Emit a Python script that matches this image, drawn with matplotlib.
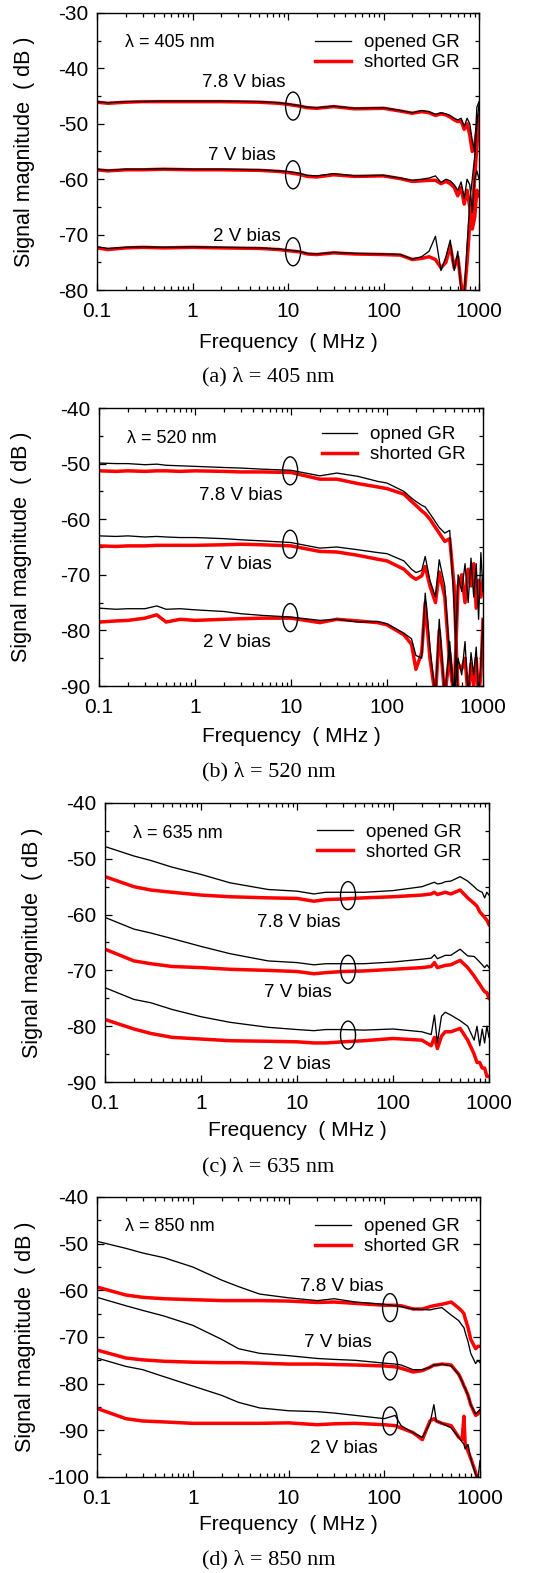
import matplotlib
matplotlib.use("Agg")
import matplotlib.pyplot as plt
import numpy as np
from matplotlib.patches import Ellipse
from matplotlib.ticker import LogLocator, NullFormatter, MultipleLocator

nan = np.nan

# (a) 405 nm
freq_a = [0.1, 0.13, 0.2, 0.3, 0.5, 1, 2, 5, 8, 10, 13, 16, 20, 30, 50, 100, 150, 200, 250,
          300, 350, 400, 450, 500, 550, 600, 650, 700, 750, 800, 850, 900, 950, 1000]
a_78_open = [-46.0, -46.2, -46.0, -46.0, -45.9, -45.9, -45.9, -46.0, -46.2, -46.4,
             -46.7, -47.0, -47.1, -46.8, -47.2, -47.1, -47.6, -48.0, -47.6, -47.8,
             -48.3, -48.0, -48.2, -48.5, -49.0, -49.3, -49.0, -50.5, -49.0, -50.0,
             -53.0, -55.0, -47.0, -46.0]
a_78_short = [-46.1, -46.3, -46.1, -46.0, -46.0, -46.0, -46.0, -46.1, -46.3, -46.5,
              -46.8, -47.1, -47.2, -46.9, -47.3, -47.2, -47.7, -48.1, -47.8, -48.0,
              -48.5, -48.2, -48.4, -48.8, -49.3, -49.6, -49.5, -51.0, -50.0, -52.0,
              -55.0, -54.0, -51.0, -48.5]
a_7_open = [-58.2, -58.4, -58.2, -58.2, -58.1, -58.2, -58.2, -58.3, -58.5, -58.6,
            -58.9, -59.3, -59.4, -59.0, -59.4, -59.3, -59.8, -60.2, -60.0, -59.8,
            -59.4, -60.6, -60.0, -60.3, -61.0, -62.0, -60.5, -63.5, -60.0, -61.0,
            -66.0, -60.0, -58.5, -60.0]
a_7_short = [-58.3, -58.5, -58.3, -58.3, -58.2, -58.3, -58.3, -58.4, -58.6, -58.8,
             -59.1, -59.5, -59.6, -59.2, -59.5, -59.4, -59.9, -60.4, -60.3, -60.2,
             -60.2, -60.8, -60.4, -60.8, -61.5, -63.0, -61.5, -64.5, -62.0, -65.0,
             -69.0, -67.0, -62.0, -63.0]
a_2_open = [-72.2, -72.5, -72.3, -72.2, -72.3, -72.2, -72.3, -72.4, -72.6, -72.8,
            -73.0, -73.4, -73.5, -73.2, -73.4, -73.5, -73.6, -74.4, -74.0, -73.0,
            -70.3, -76.5, -74.0, -71.0, -76.5, -73.0, -80.5, -81.0, -72.0, -64.0,
            -60.0, -56.0, -50.0, -46.5]
a_2_short = [-72.4, -72.7, -72.4, -72.3, -72.4, -72.3, -72.4, -72.5, -72.7, -72.9,
             -73.1, -73.5, -73.6, -73.3, -73.5, -73.6, -73.7, -74.5, -74.3, -74.0,
             -74.5, -76.0, -75.0, -72.0, -76.0, -74.0, -79.0, -81.0, -75.0, -68.0,
             -66.0, -60.0, -54.0, -49.0]

# (b) 520 nm
freq_b = [0.1, 0.15, 0.2, 0.3, 0.4, 0.5, 0.7, 1, 2, 3, 5, 10, 20, 30, 50, 80, 100, 150, 180,
          200, 230, 250, 280, 320, 350, 400, 450, 500, 550, 600, 650, 700, 750, 800, 850,
          900, 950, 1000]
b_78_open = [-49.9, -50.0, -50.0, -50.2, -50.1, -50.3, -50.4, -50.5, -50.7, -50.8,
             -51.0, -51.2, -52.2, -51.7, -52.3, -53.2, -53.5, -55.0, -56.2, -56.8,
             -57.5, -57.8, -59.0, -60.5, -61.5, -62.5, -62.0, -75.0, -92.0, nan,
             nan, nan, nan, nan, nan, nan, nan, nan]
b_78_short = [-51.3, -51.4, -51.3, -51.4, -51.3, -51.3, -51.4, -51.3, -51.4, -51.5,
              -51.5, -51.6, -52.8, -52.8, -53.6, -54.2, -54.5, -55.5, -56.8, -57.5,
              -58.5, -59.0, -60.0, -61.5, -62.5, -64.0, -63.5, -72.0, -92.0, nan,
              nan, nan, nan, nan, nan, nan, nan, nan]
b_7_open = [-63.0, -63.1, -63.0, -63.2, -63.1, -63.2, -63.3, -63.3, -63.5, -63.7,
            -63.9, -64.2, -65.2, -65.0, -65.5, -66.0, -66.2, -67.5, -69.0, -69.6,
            -69.2, -66.7, -71.0, -74.0, -67.3, -72.0, -85.0, -92.0, -70.0, -73.0,
            -68.0, -75.0, -67.0, -74.0, -68.0, -78.0, -66.0, -73.0]
b_7_short = [-64.8, -64.9, -64.8, -64.8, -64.7, -64.7, -64.7, -64.7, -64.6, -64.5,
             -64.6, -64.8, -65.8, -65.9, -66.5, -67.2, -67.5, -69.0, -70.3, -70.8,
             -70.2, -68.5, -72.0, -75.0, -69.5, -74.0, -86.0, -92.0, -72.0, -70.0,
             -75.0, -69.0, -72.0, -68.0, -76.0, -71.0, -74.0, -71.0]
b_2_open = [-76.0, -76.2, -76.1, -76.1, -75.6, -76.2, -76.1, -76.3, -76.6, -77.0,
            -77.3, -77.6, -78.2, -78.0, -78.5, -78.4, -78.8, -80.5, -81.5, -84.5,
            -85.0, -73.3, -83.0, -92.0, -78.0, -92.0, -82.0, -92.0, -85.0, -88.0,
            -82.0, -92.0, -84.0, -88.0, -83.0, -92.0, -86.0, -78.0]
b_2_short = [-78.5, -78.3, -78.2, -77.8, -77.2, -78.5, -78.0, -78.2, -78.0, -77.9,
             -77.8, -77.8, -78.6, -78.0, -78.3, -78.6, -79.0, -80.8, -82.5, -87.0,
             -84.0, -75.0, -85.0, -92.0, -80.0, -92.0, -84.0, -92.0, -86.0, -87.0,
             -85.0, -92.0, -86.0, -90.0, -85.0, -92.0, -88.0, -78.0]

# (c) 635 nm
freq_c = [0.1, 0.2, 0.3, 0.5, 1, 2, 5, 10, 15, 20, 30, 50, 100, 200, 250, 270, 290, 320,
          350, 400, 500, 600, 700, 750, 800, 850, 900, 950, 1000]
c_78_open = [-47.8, -49.5, -50.3, -51.5, -52.8, -54.3, -55.5, -55.8, -56.3, -56.0,
             -56.0, -56.0, -55.7, -55.0, -54.4, -54.2, -54.5, -54.4, -54.1, -54.0,
             -53.2, -54.0, -55.0, -55.5, -55.8, -56.0, -57.0, -56.0, -56.5]
c_78_short = [-53.2, -55.0, -55.6, -56.0, -56.5, -56.8, -57.0, -57.1, -57.6, -57.3,
              -57.2, -57.0, -56.8, -56.5, -56.3, -56.0, -56.4, -56.2, -56.0, -56.3,
              -55.6, -57.0, -58.0, -58.5, -59.5, -60.0, -60.5, -61.0, -61.8]
c_7_open = [-60.5, -62.6, -63.3, -64.3, -65.7, -67.0, -68.3, -68.6, -69.0, -68.8,
            -68.8, -68.8, -68.5, -68.0, -67.8, -67.2, -67.9, -67.6, -67.3, -67.3,
            -66.2, -67.4, -67.5, -68.0, -68.5, -69.0, -69.5, -69.0, -69.5]
c_7_short = [-66.2, -68.3, -68.8, -69.3, -69.5, -69.8, -70.0, -70.2, -70.6, -70.4,
             -70.2, -70.1, -69.8, -69.5, -69.3, -68.6, -69.5, -69.3, -69.1, -69.0,
             -68.2, -69.5, -71.0, -71.8, -72.5, -73.2, -73.8, -74.0, -75.0]
c_2_open = [-73.1, -75.2, -75.8, -77.0, -78.3, -79.3, -80.2, -80.6, -80.8, -80.6,
            -80.6, -80.7, -80.5, -81.0, -81.5, -78.0, -83.0, -78.2, -77.5, -78.0,
            -79.0, -80.0, -82.5, -80.0, -83.5, -80.5, -83.0, -80.0, -82.0]
c_2_short = [-78.8, -80.5, -81.3, -82.0, -82.3, -82.6, -82.7, -82.8, -83.0, -83.0,
             -82.8, -82.6, -82.2, -82.5, -83.5, -82.0, -84.0, -81.8, -81.0, -81.0,
             -80.4, -82.5, -85.0, -86.5, -86.5, -87.5, -87.5, -89.0, -89.0]

# (d) 850 nm
freq_d = [0.1, 0.2, 0.3, 0.5, 1, 2, 3, 5, 10, 20, 30, 50, 100, 130, 150, 200, 250, 300,
          330, 350, 400, 500, 600, 650, 680, 700, 750, 800, 900, 950, 1000]
d_78_open = [-49.5, -51.0, -52.0, -53.0, -55.0, -57.8, -59.2, -60.8, -61.6, -62.2,
             -61.8, -62.5, -63.0, -63.3, -63.5, -64.0, -64.1, -64.2, -64.0, -63.9,
             -63.7, -65.3, -66.5, -67.5, -68.0, -69.0, -71.0, -73.5, -75.7, -75.0, -75.5]
d_78_short = [-59.3, -61.0, -61.5, -61.8, -62.0, -62.2, -62.2, -62.2, -62.3, -62.6,
              -62.5, -62.8, -63.2, -63.2, -63.3, -64.0, -64.0, -63.5, -63.3, -63.2,
              -63.0, -62.5, -63.8, -64.5, -65.0, -66.0, -68.0, -70.5, -72.5, -72.0, -72.0]
d_7_open = [-61.5, -63.3, -64.3, -65.5, -67.5, -70.5, -72.5, -73.5, -74.0, -74.6,
            -74.8, -75.0, -75.6, -75.8, -76.0, -77.0, -77.0, -76.5, -76.0, -76.0,
            -75.8, -76.2, -78.0, -79.5, -80.5, -81.0, -82.5, -84.5, -86.5, -86.0, -85.5]
d_7_short = [-72.8, -74.5, -74.9, -75.2, -75.4, -75.5, -75.5, -75.6, -75.8, -75.8,
             -75.9, -76.0, -76.2, -76.4, -76.7, -77.5, -77.2, -76.5, -76.0, -76.0,
             -75.8, -76.0, -78.0, -79.5, -80.5, -81.0, -82.5, -84.5, -86.8, -86.5, -86.0]
d_2_open = [-74.5, -76.3, -77.0, -78.5, -80.5, -82.5, -84.0, -85.2, -85.8, -86.0,
            -86.3, -86.8, -87.5, -86.8, -89.0, -90.5, -91.5, -88.5, -84.5, -88.0,
            -88.5, -89.5, -91.5, -92.5, -93.0, -94.0, -93.0, -96.0, -99.5, -100.5, -96.5]
d_2_short = [-85.3, -87.5, -88.0, -88.2, -88.5, -88.5, -88.5, -88.5, -88.4, -88.8,
             -88.6, -88.5, -88.8, -89.0, -89.5, -90.5, -92.0, -88.0, -87.5, -88.0,
             -88.5, -89.0, -91.5, -92.0, -87.0, -93.0, -94.5, -96.0, -99.0, -100.5, -101.0]

bias_labels = ["7.8 V bias", "7 V bias", "2 V bias"]
xtick_vals = [0.1, 1, 10, 100, 1000]
xtick_text = ["0.1", "1", "10", "100", "1000"]

plt.rcParams['font.family'] = ['Liberation Sans', 'DejaVu Sans']
plt.rcParams['axes.unicode_minus'] = False

W, H = 537, 1573
fig = plt.figure(figsize=(W / 100, H / 100), dpi=100)


def px_box(left, right, top, bottom):
    return [left / W, 1 - bottom / H, (right - left) / W, (bottom - top) / H]


panels = [
    dict(box=(97, 479, 13, 290), ylim=(-80, -30), freq=freq_a,
         opened=[a_78_open, a_7_open, a_2_open], shorted=[a_78_short, a_7_short, a_2_short],
         names=("opened GR", "shorted GR"), wl="λ = 405 nm", wl_y=-35.4,
         bias_pos=[(3.4, -42.5), (3.3, -55.8), (3.7, -70.4)],
         ell_f=11.3, ell_y=[-46.8, -59.2, -73.1], leg=(0.571, 0.924),
         ylab_x=25, xlab_y=342, cap="(a) λ = 405 nm", cap_y=377),
    dict(box=(99, 483, 408, 686), ylim=(-90, -40), freq=freq_b,
         opened=[b_78_open, b_7_open, b_2_open], shorted=[b_78_short, b_7_short, b_2_short],
         names=("opned GR", "shorted GR"), wl="λ = 520 nm", wl_y=-45.4,
         bias_pos=[(3.0, -55.8), (2.8, -68.2), (2.76, -82.1)],
         ell_f=9.8, ell_y=[-51.3, -64.5, -77.7], leg=(0.58, 0.935),
         ylab_x=22, xlab_y=737, cap="(b) λ = 520 nm", cap_y=772),
    dict(box=(105, 489, 803, 1082), ylim=(-90, -40), freq=freq_c,
         opened=[c_78_open, c_7_open, c_2_open], shorted=[c_78_short, c_7_short, c_2_short],
         names=("opened GR", "shorted GR"), wl="λ = 635 nm", wl_y=-45.4,
         bias_pos=[(10.5, -61.5), (10.2, -73.9), (10.0, -86.8)],
         ell_f=34, ell_y=[-56.6, -69.8, -81.6], leg=(0.552, 0.925),
         ylab_x=33, xlab_y=1130, cap="(c) λ = 635 nm", cap_y=1167),
    dict(box=(97, 480, 1197, 1477), ylim=(-100, -40), freq=freq_d,
         opened=[d_78_open, d_7_open, d_2_open], shorted=[d_78_short, d_7_short, d_2_short],
         names=("opened GR", "shorted GR"), wl="λ = 850 nm", wl_y=-46.4,
         bias_pos=[(36, -59.1), (32.8, -71.1), (37.9, -93.8)],
         ell_f=115, ell_y=[-63.7, -76.2, -88.0], leg=(0.569, 0.925),
         ylab_x=25, xlab_y=1525, cap="(d) λ = 850 nm", cap_y=1560),
]

for p in panels:
    left, right, top, bottom = p["box"]
    axw, axh = right - left, bottom - top
    ax = fig.add_axes(px_box(left, right, top, bottom))
    f = np.array(p["freq"], dtype=float)
    h_open = h_short = None
    for yo, ys in zip(p["opened"], p["shorted"]):
        h_short, = ax.plot(f, np.array(ys, dtype=float), color="#ff0000", lw=2.5, zorder=2)
        h_open, = ax.plot(f, np.array(yo, dtype=float), color="black", lw=0.95, zorder=3)

    ax.set_xscale("log")
    ax.set_xlim(0.1, 1000)
    ax.set_ylim(*p["ylim"])
    ax.set_xticks(xtick_vals)
    ax.set_xticklabels(xtick_text)
    ax.xaxis.set_minor_locator(LogLocator(base=10, subs=np.arange(2, 10), numticks=20))
    ax.xaxis.set_minor_formatter(NullFormatter())
    ax.yaxis.set_major_locator(MultipleLocator(10))
    ax.yaxis.set_minor_locator(MultipleLocator(5))
    ax.tick_params(which="both", direction="in", top=True, right=True, width=0.9)
    ax.tick_params(which="major", length=5, labelsize=15)
    ax.tick_params(axis="y", which="major", pad=6)
    ax.tick_params(axis="x", which="major", pad=8.5)
    ax.tick_params(which="minor", length=3)
    for s in ax.spines.values():
        s.set_linewidth(1.0)

    ax.set_ylabel("Signal magnitude  ( dB )", fontsize=15.5)
    ax.yaxis.label.set_va("center")
    ax.yaxis.set_label_coords((p["ylab_x"] - left) / axw, 0.5)
    ax.set_xlabel("Frequency  ( MHz )", fontsize=15)
    ax.xaxis.label.set_va("center")
    ax.xaxis.set_label_coords(0.5, (bottom - p["xlab_y"]) / axh)

    ax.text(0.196, p["wl_y"], p["wl"], fontsize=13, ha="left", va="center")
    for lbl, (bx, by) in zip(bias_labels, p["bias_pos"]):
        ax.text(bx, by, lbl, fontsize=13.5, ha="center", va="center")

    ax.legend([h_open, h_short], list(p["names"]), loc="upper left",
              bbox_to_anchor=p["leg"], frameon=False, fontsize=13.5,
              handlelength=1.9, handletextpad=0.7, labelspacing=0.15,
              borderpad=0, borderaxespad=0)

    to_axes = ax.transData + ax.transAxes.inverted()
    for ey in p["ell_y"]:
        cx, cy = to_axes.transform((p["ell_f"], ey))
        ax.add_patch(Ellipse((cx, cy), 15 / axw, 28 / axh, transform=ax.transAxes,
                             fill=False, ec="black", lw=1.0, zorder=4))

    fig.text(0.5, 1 - p["cap_y"] / H, p["cap"], ha="center", va="center",
             fontsize=16, family=["Liberation Serif", "DejaVu Serif"])

fig.savefig("out.png", dpi=100)
